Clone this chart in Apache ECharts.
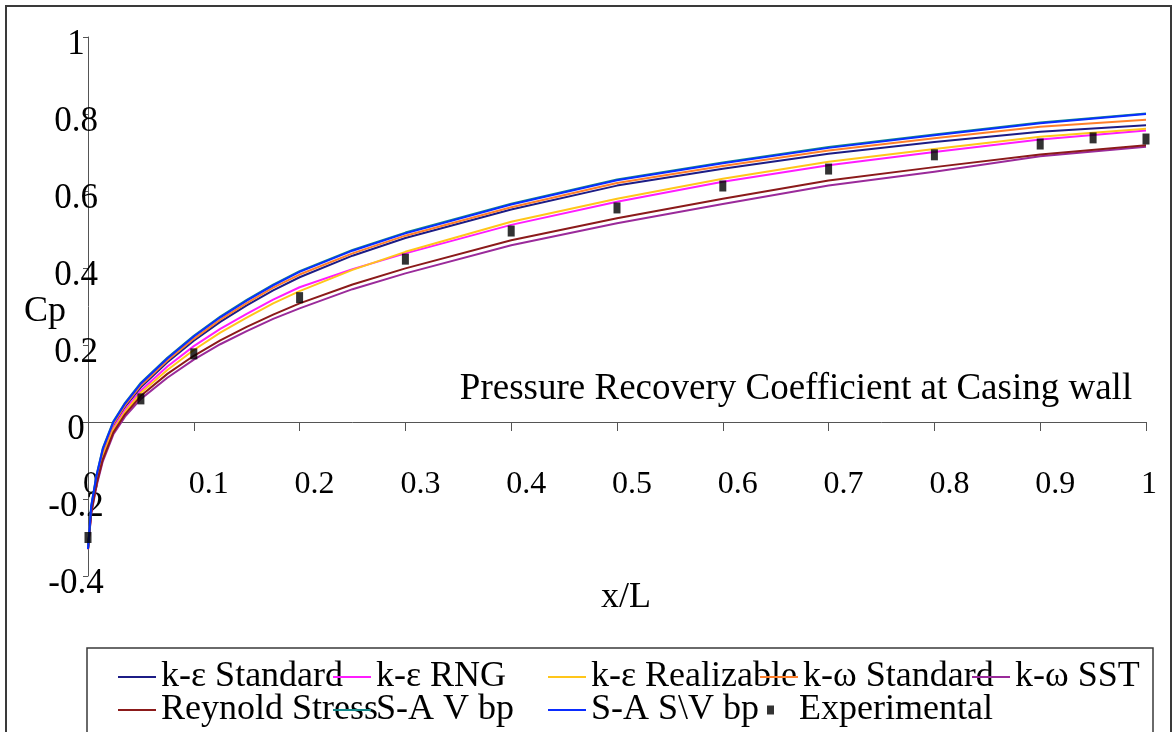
<!DOCTYPE html>
<html>
<head>
<meta charset="utf-8">
<script src="https://cdn.jsdelivr.net/npm/echarts@6/dist/echarts.min.js"></script>
<style>
  html, body { margin: 0; padding: 0; background: #ffffff; }
  #chart { width: 1173px; height: 732px; }
</style>
</head>
<body>
<div id="chart"></div>
<script>
// Stations along the casing wall (x/L) shared by all computed curves
const xPos = [0, 0.003, 0.008, 0.014, 0.024, 0.035, 0.05, 0.075, 0.1, 0.125, 0.15, 0.175, 0.2, 0.25, 0.3, 0.4, 0.5, 0.6, 0.7, 0.8, 0.9, 1.0];

// Cp for each turbulence model
const keStandard    = [-0.33, -0.226, -0.148, -0.079, -0.009, 0.039, 0.09, 0.155, 0.211, 0.26, 0.303, 0.342, 0.376, 0.432, 0.478, 0.552, 0.614, 0.658, 0.697, 0.727, 0.754, 0.771];
const keRNG         = [-0.33, -0.23, -0.153, -0.086, -0.016, 0.031, 0.082, 0.144, 0.197, 0.242, 0.281, 0.318, 0.35, 0.397, 0.438, 0.512, 0.572, 0.624, 0.667, 0.701, 0.734, 0.757];
const keRealizable  = [-0.33, -0.232, -0.156, -0.089, -0.02, 0.026, 0.076, 0.135, 0.187, 0.232, 0.271, 0.308, 0.34, 0.395, 0.442, 0.52, 0.58, 0.632, 0.676, 0.709, 0.741, 0.762];
const kwStandard    = [-0.33, -0.223, -0.144, -0.075, -0.005, 0.043, 0.095, 0.16, 0.216, 0.266, 0.309, 0.349, 0.383, 0.438, 0.484, 0.558, 0.621, 0.665, 0.705, 0.737, 0.767, 0.785];
const kwSST         = [-0.33, -0.24, -0.167, -0.102, -0.032, 0.014, 0.06, 0.115, 0.162, 0.202, 0.236, 0.268, 0.295, 0.345, 0.386, 0.459, 0.516, 0.566, 0.614, 0.65, 0.69, 0.715];
const reynoldStress = [-0.33, -0.236, -0.162, -0.097, -0.027, 0.02, 0.068, 0.125, 0.172, 0.212, 0.247, 0.279, 0.308, 0.357, 0.399, 0.472, 0.529, 0.58, 0.627, 0.662, 0.695, 0.719];
const saVbp         = [-0.33, -0.218, -0.138, -0.068, 0.002, 0.05, 0.102, 0.167, 0.224, 0.274, 0.317, 0.357, 0.392, 0.447, 0.492, 0.567, 0.63, 0.674, 0.714, 0.747, 0.778, 0.801];
const saSVbp        = [-0.33, -0.22, -0.14, -0.07, 0.0, 0.048, 0.10, 0.165, 0.222, 0.272, 0.315, 0.355, 0.39, 0.445, 0.49, 0.565, 0.628, 0.672, 0.712, 0.745, 0.776, 0.80];

// Measured points
const expX = [0, 0.05, 0.1, 0.2, 0.3, 0.4, 0.5, 0.6, 0.7, 0.8, 0.9, 0.95, 1.0];
const expY = [-0.30, 0.06, 0.177, 0.323, 0.423, 0.496, 0.556, 0.613, 0.657, 0.694, 0.722, 0.738, 0.735];

// Axis tick labels
const xTickLabels = ['0', '0.1', '0.2', '0.3', '0.4', '0.5', '0.6', '0.7', '0.8', '0.9', '1'];
const yTickLabels = ['-0.4', '-0.2', '0', '0.2', '0.4', '0.6', '0.8', '1'];

const seriesNames = ['k-ε Standard', 'k-ε RNG', 'k-ε Realizable', 'k-ω Standard', 'k-ω SST',
                     'Reynold Stress', 'S-A V bp', 'S-A S\\V bp'];
const seriesData  = [keStandard, keRNG, keRealizable, kwStandard, kwSST, reynoldStress, saVbp, saSVbp];
const seriesColors = ['#1c1c86', '#ff1cff', '#ffc61a', '#ff7f2a', '#9a2a9a', '#8b1a1a', '#138a8a', '#0a2cff'];

const FONT = "'Liberation Serif', 'DejaVu Serif', serif";

const pair = (xs, ys) => xs.map((x, i) => [x, ys[i]]);

const lineSeries = seriesNames.map((name, k) => ({
  name: name,
  type: 'line',
  data: pair(xPos, seriesData[k]),
  symbol: 'none',
  showSymbol: false,
  smooth: false,
  color: seriesColors[k],
  lineStyle: { width: 2, color: seriesColors[k], join: 'round' },
  emphasis: { disabled: true },
  z: 2 + k
}));

const expSeries = {
  name: 'Experimental',
  type: 'scatter',
  data: pair(expX, expY),
  symbol: 'rect',
  symbolSize: [7, 11],
  color: '#000',
  itemStyle: { color: '#000' },
  emphasis: { disabled: true },
  z: 20
};

// Legend laid out on a fixed two-row grid of columns
const legendCols = [118, 333, 548, 760, 972];
const legendRows = [659, 692];
const legendSlots = [
  [0, 0], [0, 1], [0, 2], [0, 3], [0, 4],
  [1, 0], [1, 1], [1, 2]
];
const legends = seriesNames.map((name, k) => ({
  data: [{ name: name, icon: 'rect' }],
  left: legendCols[legendSlots[k][1]],
  top: legendRows[legendSlots[k][0]],
  orient: 'horizontal',
  padding: 0,
  itemWidth: 38,
  itemHeight: 2,
  itemGap: 0,
  selectedMode: false,
  textStyle: { fontFamily: FONT, fontSize: 36, color: '#000' }
}));
legends.push({
  data: [{ name: 'Experimental', icon: 'rect' }],
  left: 767,
  top: legendRows[1],
  padding: 0,
  itemWidth: 7,
  itemHeight: 9,
  selectedMode: false,
  textStyle: { fontFamily: FONT, fontSize: 36, color: '#000', padding: [0, 0, 0, 20] }
});

const chart = echarts.init(document.getElementById('chart'), null, { renderer: 'canvas' });

chart.setOption({
  backgroundColor: '#ffffff',
  animation: false,
  grid: { left: 88, top: 37, width: 1058, height: 539, containLabel: false },
  xAxis: {
    type: 'value',
    min: 0, max: 1, interval: 0.1,
    // the axis sits on Cp = 0, i.e. 154 px above the plot bottom
    offset: -154,
    axisLine: { onZero: false, lineStyle: { color: '#555', width: 1 } },
    axisTick: { show: true, length: 9, lineStyle: { color: '#555' } },
    splitLine: { show: false },
    axisLabel: {
      margin: 47,
      color: '#000',
      fontFamily: FONT,
      fontSize: 32,
      formatter: (v, i) => '{t|' + xTickLabels[i] + '}',
      rich: { t: { width: 10, align: 'left', fontFamily: FONT, fontSize: 32, color: '#000' } }
    }
  },
  yAxis: {
    type: 'value',
    min: -0.4, max: 1, interval: 0.2,
    axisLine: { show: true, onZero: false, lineStyle: { color: '#555', width: 1 } },
    axisTick: { show: true, length: 5, lineStyle: { color: '#555' } },
    splitLine: { show: false },
    axisLabel: {
      margin: 12,
      align: 'center',
      verticalAlign: 'top',
      lineHeight: 15,
      color: '#000',
      fontFamily: FONT,
      fontSize: 35,
      formatter: (v, i) => yTickLabels[i]
    }
  },
  legend: legends,
  series: lineSeries.concat([expSeries]),
  graphic: [
    { type: 'rect', z: 100, silent: true,
      shape: { x: 6, y: 6, width: 1165, height: 740 },
      style: { fill: 'none', stroke: '#3a3a3a', lineWidth: 2 } },
    { type: 'rect', z: 100, silent: true,
      shape: { x: 87, y: 648, width: 1066, height: 100 },
      style: { fill: 'none', stroke: '#3a3a3a', lineWidth: 1.5 } },
    { type: 'text', z: 100, silent: true, x: 45, y: 312,
      style: { text: 'Cp', font: '36px ' + FONT, fill: '#000', align: 'center', verticalAlign: 'middle' } },
    { type: 'text', z: 100, silent: true, x: 626, y: 598,
      style: { text: 'x/L', font: '36px ' + FONT, fill: '#000', align: 'center', verticalAlign: 'middle' } },
    { type: 'text', z: 100, silent: true, x: 796, y: 389,
      style: { text: 'Pressure Recovery Coefficient at Casing wall', font: '37px ' + FONT, fill: '#000',
               align: 'center', verticalAlign: 'middle' } }
  ]
});
</script>
</body>
</html>
